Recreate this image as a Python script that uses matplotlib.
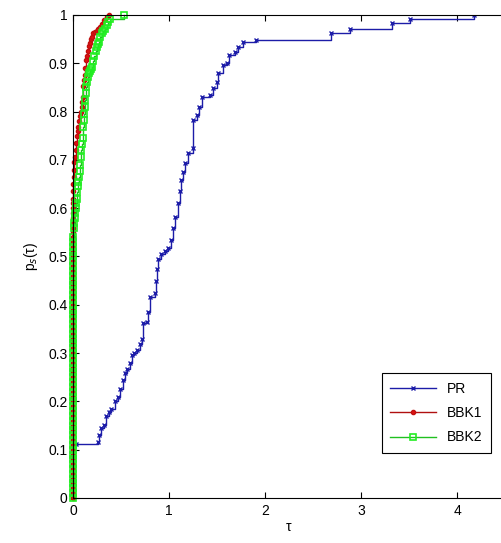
import matplotlib
matplotlib.use('Agg')
import matplotlib.pyplot as plt

plt.rcParams['font.family'] = ['Liberation Sans', 'DejaVu Sans']
plt.rcParams['font.size'] = 10

# performance profile breakpoints (tau, p_s(tau))
pr_tau = [0.03, 0.26, 0.27, 0.29, 0.32, 0.34, 0.37, 0.40, 0.44, 0.47, 0.49, 0.52,
          0.54, 0.56, 0.59, 0.61, 0.64, 0.67, 0.70, 0.72, 0.73, 0.775, 0.78, 0.80,
          0.854, 0.86, 0.875, 0.89, 0.92, 0.96, 0.99, 1.02, 1.04, 1.06, 1.09, 1.11,
          1.13, 1.15, 1.17, 1.20, 1.25, 1.25, 1.29, 1.31, 1.34, 1.43, 1.46, 1.50,
          1.51, 1.56, 1.60, 1.625, 1.69, 1.72, 1.77, 1.91, 2.69, 2.885, 3.32, 3.51,
          4.18]
pr_p = [0.111, 0.115, 0.13, 0.145, 0.152, 0.17, 0.178, 0.185, 0.20, 0.21, 0.225, 0.245,
        0.258, 0.268, 0.279, 0.296, 0.300, 0.306, 0.318, 0.330, 0.362, 0.365, 0.385, 0.417,
        0.424, 0.45, 0.475, 0.495, 0.505, 0.512, 0.517, 0.535, 0.56, 0.582, 0.61, 0.635,
        0.658, 0.675, 0.693, 0.714, 0.724, 0.783, 0.793, 0.81, 0.831, 0.835, 0.848, 0.862,
        0.879, 0.896, 0.90, 0.917, 0.924, 0.934, 0.945, 0.948, 0.963, 0.972, 0.983, 0.991,
        1.0]

# problems solved at tau = 0 (vertical part), then the rising part
bbk1_zero_p = [0.00, 0.01, 0.02, 0.03, 0.04, 0.05, 0.06, 0.07, 0.08, 0.09, 0.10, 0.11,
               0.12, 0.13, 0.14, 0.15, 0.16, 0.17, 0.18, 0.19, 0.20, 0.21, 0.22, 0.23,
               0.24, 0.25, 0.26, 0.27, 0.28, 0.29, 0.30, 0.31, 0.32, 0.33, 0.34, 0.35,
               0.36, 0.37, 0.38, 0.39, 0.40, 0.41, 0.42, 0.43, 0.44, 0.45, 0.46, 0.47,
               0.48, 0.49, 0.50, 0.51, 0.52, 0.53, 0.54, 0.55, 0.56, 0.57, 0.58, 0.59,
               0.60, 0.61, 0.62]
bbk1_tau = [0.003, 0.005, 0.008, 0.01, 0.015, 0.02, 0.028, 0.035, 0.045, 0.05, 0.055,
            0.062, 0.07, 0.08, 0.09, 0.095, 0.10, 0.107, 0.113, 0.12, 0.13, 0.14, 0.15,
            0.16, 0.17, 0.177, 0.19, 0.20, 0.21, 0.23, 0.247, 0.26, 0.28, 0.30, 0.32,
            0.35, 0.378]
bbk1_p = [0.635, 0.65, 0.665, 0.68, 0.695, 0.707, 0.72, 0.735, 0.75, 0.76, 0.769,
          0.78, 0.79, 0.80, 0.81, 0.82, 0.83, 0.852, 0.865, 0.875, 0.89, 0.907, 0.915,
          0.925, 0.935, 0.941, 0.95, 0.955, 0.962, 0.965, 0.966, 0.97, 0.975, 0.982, 0.99,
          0.995, 1.0]

bbk2_zero_p = [0.00, 0.01, 0.02, 0.03, 0.04, 0.05, 0.06, 0.07, 0.08, 0.09, 0.10, 0.11,
               0.12, 0.13, 0.14, 0.15, 0.16, 0.17, 0.18, 0.19, 0.20, 0.21, 0.22, 0.23,
               0.24, 0.25, 0.26, 0.27, 0.28, 0.29, 0.30, 0.31, 0.32, 0.33, 0.34, 0.35,
               0.36, 0.37, 0.38, 0.39, 0.40, 0.41, 0.42, 0.43, 0.44, 0.45, 0.46, 0.47,
               0.48, 0.49, 0.50, 0.51, 0.52, 0.53, 0.54]
bbk2_tau = [0.01, 0.015, 0.02, 0.025, 0.03, 0.035, 0.04, 0.045, 0.05, 0.055, 0.06,
            0.068, 0.075, 0.08, 0.085, 0.092, 0.10, 0.107, 0.111, 0.115, 0.12, 0.125,
            0.132, 0.14, 0.15, 0.16, 0.168, 0.175, 0.185, 0.195, 0.21, 0.22, 0.235, 0.247,
            0.258, 0.27, 0.285, 0.30, 0.315, 0.33, 0.35, 0.365, 0.385, 0.535]
bbk2_p = [0.56, 0.57, 0.58, 0.59, 0.60, 0.61, 0.62, 0.633, 0.645, 0.655, 0.665,
          0.678, 0.69, 0.705, 0.72, 0.733, 0.745, 0.769, 0.782, 0.795, 0.81, 0.824,
          0.838, 0.85, 0.862, 0.872, 0.879, 0.885, 0.889, 0.893, 0.905, 0.915, 0.925, 0.934,
          0.94, 0.945, 0.954, 0.962, 0.966, 0.97, 0.979, 0.985, 0.992, 1.0]

labels = ['PR', 'BBK1', 'BBK2']

fig = plt.figure(figsize=(5.02, 5.43), dpi=100)
ax = fig.add_axes([0.1454, 0.0829, 0.8606, 0.8895])

ax.plot(pr_tau, pr_p, drawstyle='steps-post', color='#1c1ca8', lw=1,
        marker='x', ms=3.5, mew=1, label=labels[0])
ax.plot([0.0] * len(bbk1_zero_p) + bbk1_tau, bbk1_zero_p + bbk1_p,
        drawstyle='steps-post', color='#b01010', lw=1, clip_on=False,
        marker='.', ms=6, mfc='#e01010', mec='#c01010', label=labels[1])
ax.plot([0.0] * len(bbk2_zero_p) + bbk2_tau, bbk2_zero_p + bbk2_p,
        drawstyle='steps-post', color='#20c020', lw=1, clip_on=False,
        marker='s', ms=4.5, mfc='none', mec='#22ee22', mew=1.2, label=labels[2])

ax.set_xlim(0, 4.5)
ax.set_ylim(0, 1)
ax.set_xticks([0, 1, 2, 3, 4])
ax.set_yticks([0, 0.1, 0.2, 0.3, 0.4, 0.5, 0.6, 0.7, 0.8, 0.9, 1])
ax.set_yticklabels(['0', '0.1', '0.2', '0.3', '0.4', '0.5', '0.6', '0.7', '0.8', '0.9', '1'])
ax.tick_params(direction='in', top=True, right=False, length=4, pad=4)
ax.set_xlabel('τ', labelpad=2)
ax.set_ylabel('p$_s$(τ)', labelpad=6)

leg = ax.legend(loc='upper left', bbox_to_anchor=(0.699, 0.2725), fancybox=False,
                edgecolor='black', framealpha=1, borderpad=0.6, handlelength=3.3,
                labelspacing=0.75, fontsize=10)
leg.get_frame().set_linewidth(0.8)

fig.savefig('out.png', dpi=100)
